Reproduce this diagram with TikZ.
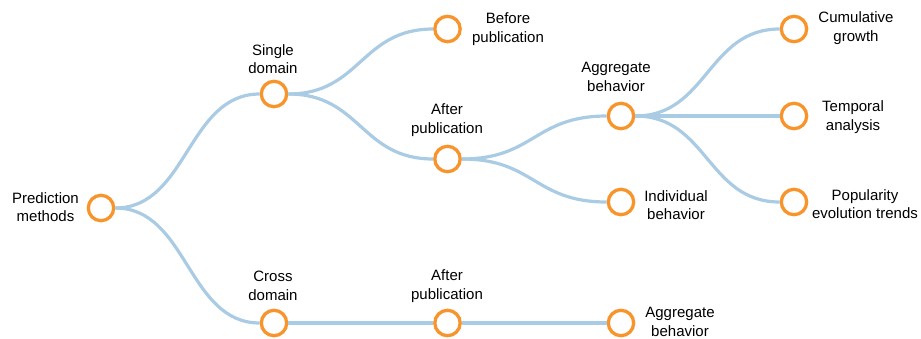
\documentclass[tikz,border=0pt]{standalone}
\usepackage{fontspec}
\setmainfont{Liberation Sans}
\usetikzlibrary{calc}

\definecolor{ringorange}{RGB}{247,148,44}
\definecolor{linkblue}{RGB}{170,203,228}

\newcommand{\treelink}[2]{%
  \draw[link] let \p1=(#1), \p2=(#2) in
    (#1) .. controls ({(\x1+\x2)/2},\y1) and ({(\x1+\x2)/2},\y2) .. (#2);}

\begin{document}
\begin{tikzpicture}[x=1pt,y=-1pt,
    ring/.style={circle,draw=ringorange,line width=3.3pt,fill=white,
      minimum size=25.4pt,inner sep=0pt},
    link/.style={draw=linkblue,line width=3.2pt},
    lbl/.style={font=\fontsize{15}{18.5}\selectfont,align=center,inner sep=0pt}]
  \useasboundingbox (0,0) rectangle (921,338);
  % rings
  \node[ring] (pm)  at (101,208) {};
  \node[ring] (sd)  at (274,94)  {};
  \node[ring] (bp)  at (447.5,29) {};
  \node[ring] (apa) at (447.5,159) {};
  \node[ring] (agg) at (621,116) {};
  \node[ring] (ind) at (621,202) {};
  \node[ring] (cum) at (794,29)  {};
  \node[ring] (tem) at (794,116) {};
  \node[ring] (pop) at (794,202) {};
  \node[ring] (cd)  at (274,323) {};
  \node[ring] (apb) at (447.5,323) {};
  \node[ring] (agb) at (621,323) {};
  % labels
  \node[lbl] (pm-t)  at (45.5,207) {Prediction\\methods};
  \node[lbl] (sd-t)  at (273,59)   {Single\\domain};
  \node[lbl] (bp-t)  at (508,29)   {Before\\publication};
  \node[lbl] (apa-t) at (447,120)  {After\\publication};
  \node[lbl] (agg-t) at (616,77)   {Aggregate\\behavior};
  \node[lbl] (ind-t) at (676,205)  {Individual\\behavior};
  \node[lbl] (cum-t) at (856,28)   {Cumulative\\growth};
  \node[lbl] (tem-t) at (853,117)  {Temporal\\analysis};
  \node[lbl] (pop-t) at (865,204)  {Popularity\\evolution trends};
  \node[lbl] (cd-t)  at (273,286)  {Cross\\domain};
  \node[lbl] (apb-t) at (447,286)  {After\\publication};
  \node[lbl] (agb-t) at (680,322)  {Aggregate\\behavior};
  % links
  \foreach \a/\b in {pm/sd,pm/cd,sd/bp,sd/apa,apa/agg,apa/ind,
                     agg/cum,agg/tem,agg/pop,cd/apb,apb/agb}
    \treelink{\a}{\b};
\end{tikzpicture}
\end{document}
